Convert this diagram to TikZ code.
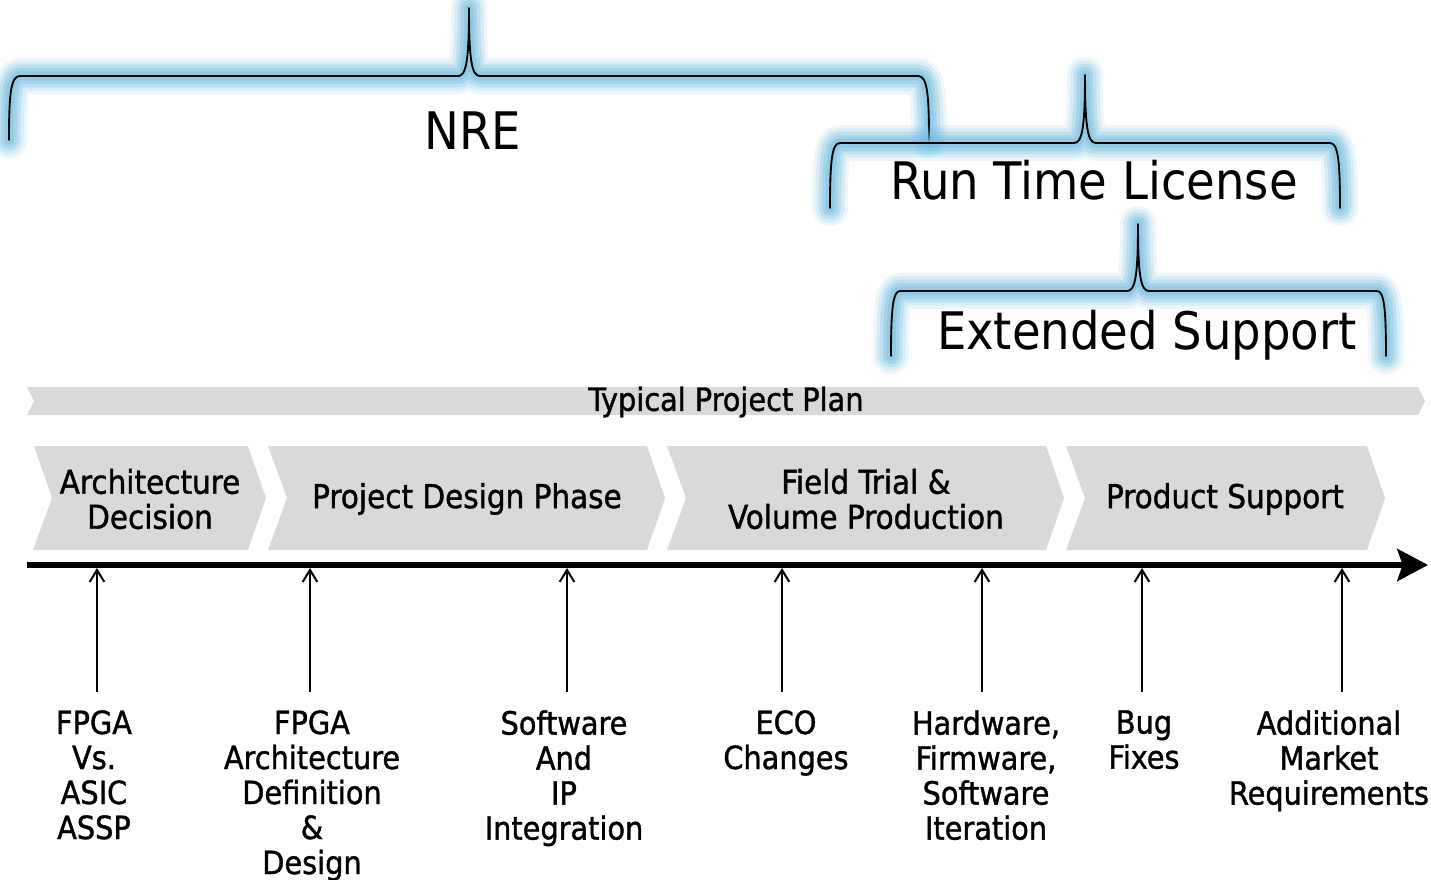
\documentclass[tikz,border=0pt]{standalone}
\usepackage{fontspec}
\setmainfont{DejaVu Sans Condensed}
\newfontfamily\medfont[FakeBold=1.2]{DejaVu Sans Condensed}
\usetikzlibrary{arrows.meta}
\definecolor{glowblue}{RGB}{110,185,222}
\definecolor{bandgray}{RGB}{217,217,217}

\tikzset{
  bracestroke/.style={draw=black, line width=1.4pt, line cap=round, line join=round},
  glowstroke/.style={draw=glowblue, line cap=round, line join=round},
  bandshape/.style={fill=bandgray, draw=none},
  phasetext/.style={font=\medfont\fontsize{24.6}{26.25}\selectfont, align=center, inner sep=0pt},
  headtext/.style={font=\fontsize{38.8}{44}\selectfont, inner sep=0pt},
  itemtext/.style={font=\medfont\fontsize{24}{26.25}\selectfont, align=center, inner sep=0pt, anchor=north},
  axis/.style={draw=black, line width=4.5pt, -{Stealth[length=23pt,width=24pt,inset=4pt]}},
  tick/.style={draw=black, line width=1.5pt, -{Straight Barb[length=9pt,width=11pt]}}
}

% a curly brace with a soft blue halo behind it
\newcommand\haloedbrace[1]{%
  \path[glowstroke, line width=27pt, opacity=0.12] #1;
  \path[glowstroke, line width=22pt, opacity=0.18] #1;
  \path[glowstroke, line width=17pt, opacity=0.24] #1;
  \path[glowstroke, line width=12pt, opacity=0.30] #1;
  \path[glowstroke, line width=7pt, opacity=0.35] #1;
  \path[bracestroke] #1;
}

\begin{document}
\begin{tikzpicture}[x=0.75pt, y=-0.75pt]
\useasboundingbox (0,0) rectangle (1431,879);

% ---- cost braces ----
\haloedbrace{(9,140) .. controls (9,92) and (11,76) .. (20,76) -- (458,76)
  .. controls (466,76) and (469,62) .. (469,8)
  .. controls (469,62) and (472,76) .. (480,76) -- (918,76)
  .. controls (927,76) and (929,92) .. (929,140)}
\haloedbrace{(830,208) .. controls (830,160) and (832,143) .. (840,143) -- (1074,143)
  .. controls (1082,143) and (1085,129) .. (1085,75)
  .. controls (1085,129) and (1088,143) .. (1096,143) -- (1330,143)
  .. controls (1338,143) and (1340,160) .. (1340,208)}
\haloedbrace{(891,356) .. controls (891,308) and (893,291) .. (900,291) -- (1127,291)
  .. controls (1135,291) and (1138,277) .. (1138,224)
  .. controls (1138,277) and (1141,291) .. (1149,291) -- (1377,291)
  .. controls (1384,291) and (1386,308) .. (1386,356)}

\node[headtext] (nre) at (473,131) {NRE};
\node[headtext] (rtl) at (1094,180) {Run Time License};
\node[headtext] (ext) at (1147,335) {Extended Support};

% ---- project plan band ----
\path[bandshape] (27,387) -- (1418,387) -- (1425,401) -- (1418,415) -- (27,415) -- (34,401) -- cycle;
\node[phasetext, font=\medfont\fontsize{24}{26}\selectfont] (plan) at (726,402) {Typical Project Plan};

% ---- phase chevrons ----
\path[bandshape] (34,446) -- (248,446) -- (266,498) -- (248,550) -- (33,550) -- (52,498) -- cycle;
\path[bandshape] (268,446) -- (647,446) -- (665,498) -- (647,550) -- (268,550) -- (287,498) -- cycle;
\path[bandshape] (667,446) -- (1046,446) -- (1064,498) -- (1046,550) -- (667,550) -- (686,498) -- cycle;
\path[bandshape] (1066,446) -- (1367,446) -- (1385,498) -- (1367,550) -- (1066,550) -- (1085,498) -- cycle;
\node[phasetext] (ph1) at (150,499) {Architecture\\Decision};
\node[phasetext] (ph2) at (467,499) {Project Design Phase};
\node[phasetext] (ph3) at (866,499) {Field Trial \&\\Volume Production};
\node[phasetext] (ph4) at (1225,499) {Product Support};

% ---- timeline ----
\coordinate (ax0) at (27,565);
\coordinate (ax1) at (1428,565);
\draw[axis] (ax0) -- (ax1);

% ---- milestones ----
\node[itemtext] (m1) at (94,710) {FPGA\\Vs.\\ASIC\\ASSP};
\node[itemtext] (m2) at (312,710) {FPGA\\Architecture\\Definition\\\&\\Design};
\node[itemtext] (m3) at (564,710) {Software\\And\\IP\\Integration};
\node[itemtext] (m4) at (786,710) {ECO\\Changes};
\node[itemtext] (m5) at (986,710) {Hardware,\\Firmware,\\Software\\Iteration};
\node[itemtext] (m6) at (1144,710) {Bug\\Fixes};
\node[itemtext] (m7) at (1329,710) {Additional\\Market\\Requirements};

\foreach \i/\x in {1/97, 2/310, 3/567, 4/782, 5/982, 6/1142, 7/1342} {
  \coordinate (lo\i) at (\x,692);
  \coordinate (hi\i) at (\x,568);
  \draw[tick] (lo\i) -- (hi\i);
}
\end{tikzpicture}
\end{document}
